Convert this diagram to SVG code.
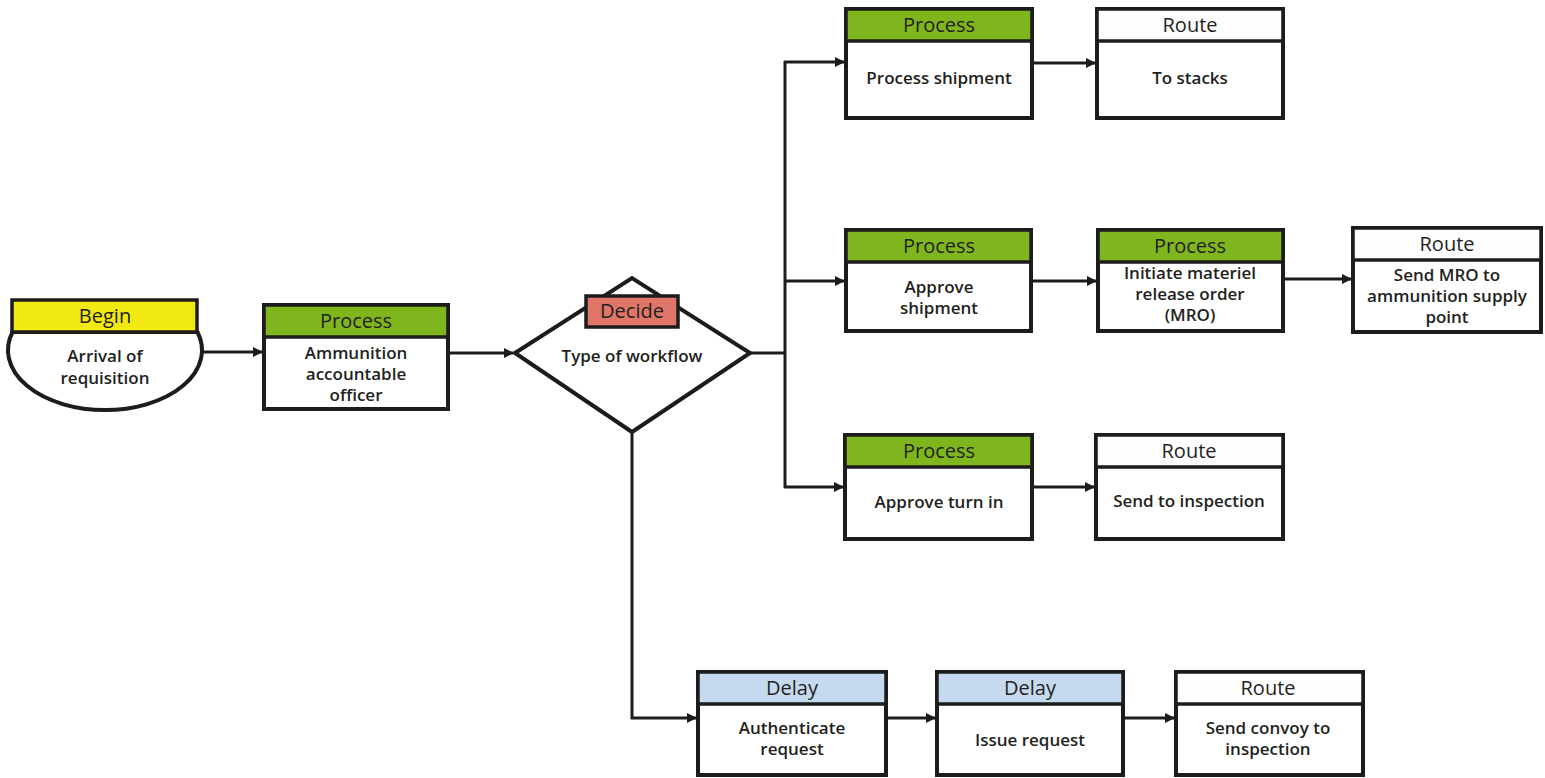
<svg xmlns="http://www.w3.org/2000/svg" width="1545" height="778" viewBox="0 0 1545 778">
<defs>
<style>
.box{fill:#ffffff;stroke:#1c1c1c;stroke-width:4}
.hd{stroke:#1c1c1c;stroke-width:3.5}
.green{fill:#7fb61e}
.yellow{fill:#f3e912}
.red{fill:#e0756a}
.blue{fill:#c6daef}
.white{fill:#fdfdfd}
.ht{font-family:"Open Sans","Noto Sans",sans-serif;font-size:20px;font-weight:500;fill:#231f20;text-anchor:middle}
.bt{font-family:"Open Sans","Noto Sans",sans-serif;font-size:17px;font-weight:600;fill:#231f20;text-anchor:middle}
.ln{fill:none;stroke:#1c1c1c;stroke-width:3}
</style>
<marker id="ah" markerWidth="10" markerHeight="10" refX="9" refY="5" orient="auto" markerUnits="userSpaceOnUse">
<path d="M0,0 L10,5 L0,10 Z" fill="#1c1c1c"/>
</marker>
</defs>
<rect width="1545" height="778" fill="#ffffff"/>

<g id="connectors">
<line class="ln" x1="202" y1="352" x2="262" y2="352" marker-end="url(#ah)"/>
<line class="ln" x1="448" y1="353" x2="513" y2="353" marker-end="url(#ah)"/>
<polyline class="ln" points="750,353 785,353"/>
<line class="ln" x1="785" y1="61" x2="785" y2="488"/>
<polyline class="ln" points="784,62 844,62" marker-end="url(#ah)"/>
<line class="ln" x1="785" y1="281" x2="844" y2="281" marker-end="url(#ah)"/>
<polyline class="ln" points="784,487 843,487" marker-end="url(#ah)"/>
<line class="ln" x1="1032" y1="63" x2="1095" y2="63" marker-end="url(#ah)"/>
<line class="ln" x1="1031" y1="281" x2="1096" y2="281" marker-end="url(#ah)"/>
<line class="ln" x1="1283" y1="279" x2="1351" y2="279" marker-end="url(#ah)"/>
<line class="ln" x1="1032" y1="487" x2="1094" y2="487" marker-end="url(#ah)"/>
<polyline class="ln" points="632,432 632,718 696,718" marker-end="url(#ah)"/>
<line class="ln" x1="886" y1="718" x2="935" y2="718" marker-end="url(#ah)"/>
<line class="ln" x1="1123" y1="718" x2="1174" y2="718" marker-end="url(#ah)"/>
</g>

<g id="begin">
<path class="box" d="M12.5,332 A97,60 0 1 0 197.5,332 Z"/>
<rect class="yellow hd" x="12" y="300" width="185" height="32" stroke-width="4"/>
<text class="ht" x="105" y="323">Begin</text>
<text class="bt" x="105" y="362">Arrival of</text>
<text class="bt" x="105" y="384">requisition</text>
</g>

<g id="p1">
<rect class="box" x="264" y="305" width="184" height="104"/>
<rect class="green hd" x="264" y="305" width="184" height="32" stroke-width="4"/>
<text class="ht" x="356" y="328">Process</text>
<text class="bt" x="356" y="359">Ammunition</text>
<text class="bt" x="356" y="380">accountable</text>
<text class="bt" x="356" y="401">officer</text>
</g>

<g id="decide">
<polygon class="box" points="515,353 632,278 750,353 632,432" stroke-width="3.5"/>
<rect class="red hd" x="586" y="296" width="92" height="31" stroke-width="3.5"/>
<text class="ht" x="632" y="318">Decide</text>
<text class="bt" x="632" y="362">Type of workflow</text>
</g>

<g id="process-shipment">
<rect class="box" x="846" y="9" width="186" height="109"/>
<rect class="green hd" x="846" y="9" width="186" height="32" stroke-width="4"/>
<text class="ht" x="939" y="32">Process</text>
<text class="bt" x="939" y="84">Process shipment</text>
</g>

<g id="to-stacks">
<rect class="box" x="1097" y="9" width="186" height="109"/>
<rect class="white hd" x="1097" y="9" width="186" height="32" stroke-width="4"/>
<text class="ht" x="1190" y="32">Route</text>
<text class="bt" x="1190" y="84">To stacks</text>
</g>

<g id="approve-shipment">
<rect class="box" x="846" y="230" width="185" height="101"/>
<rect class="green hd" x="846" y="230" width="185" height="32" stroke-width="4"/>
<text class="ht" x="939" y="253">Process</text>
<text class="bt" x="939" y="293">Approve</text>
<text class="bt" x="939" y="314">shipment</text>
</g>

<g id="initiate-mro">
<rect class="box" x="1098" y="230" width="185" height="101"/>
<rect class="green hd" x="1098" y="230" width="185" height="32" stroke-width="4"/>
<text class="ht" x="1190" y="253">Process</text>
<text class="bt" x="1190" y="279">Initiate materiel</text>
<text class="bt" x="1190" y="300">release order</text>
<text class="bt" x="1190" y="321">(MRO)</text>
</g>

<g id="send-mro">
<rect class="box" x="1353" y="228" width="188" height="104"/>
<rect class="white hd" x="1353" y="228" width="188" height="32" stroke-width="4"/>
<text class="ht" x="1447" y="251">Route</text>
<text class="bt" x="1447" y="281">Send MRO to</text>
<text class="bt" x="1447" y="302">ammunition supply</text>
<text class="bt" x="1447" y="323">point</text>
</g>

<g id="approve-turn-in">
<rect class="box" x="845" y="435" width="187" height="104"/>
<rect class="green hd" x="845" y="435" width="187" height="32" stroke-width="4"/>
<text class="ht" x="939" y="458">Process</text>
<text class="bt" x="939" y="508">Approve turn in</text>
</g>

<g id="send-to-inspection">
<rect class="box" x="1096" y="435" width="187" height="104"/>
<rect class="white hd" x="1096" y="435" width="187" height="32" stroke-width="4"/>
<text class="ht" x="1189" y="458">Route</text>
<text class="bt" x="1189" y="507">Send to inspection</text>
</g>

<g id="authenticate">
<rect class="box" x="698" y="672" width="188" height="103"/>
<rect class="blue hd" x="698" y="672" width="188" height="32" stroke-width="4"/>
<text class="ht" x="792" y="695">Delay</text>
<text class="bt" x="792" y="734">Authenticate</text>
<text class="bt" x="792" y="755">request</text>
</g>

<g id="issue-request">
<rect class="box" x="937" y="672" width="186" height="103"/>
<rect class="blue hd" x="937" y="672" width="186" height="32" stroke-width="4"/>
<text class="ht" x="1030" y="695">Delay</text>
<text class="bt" x="1030" y="746">Issue request</text>
</g>

<g id="send-convoy">
<rect class="box" x="1176" y="672" width="187" height="103"/>
<rect class="white hd" x="1176" y="672" width="187" height="32" stroke-width="4"/>
<text class="ht" x="1268" y="695">Route</text>
<text class="bt" x="1268" y="734">Send convoy to</text>
<text class="bt" x="1268" y="755">inspection</text>
</g>
</svg>
